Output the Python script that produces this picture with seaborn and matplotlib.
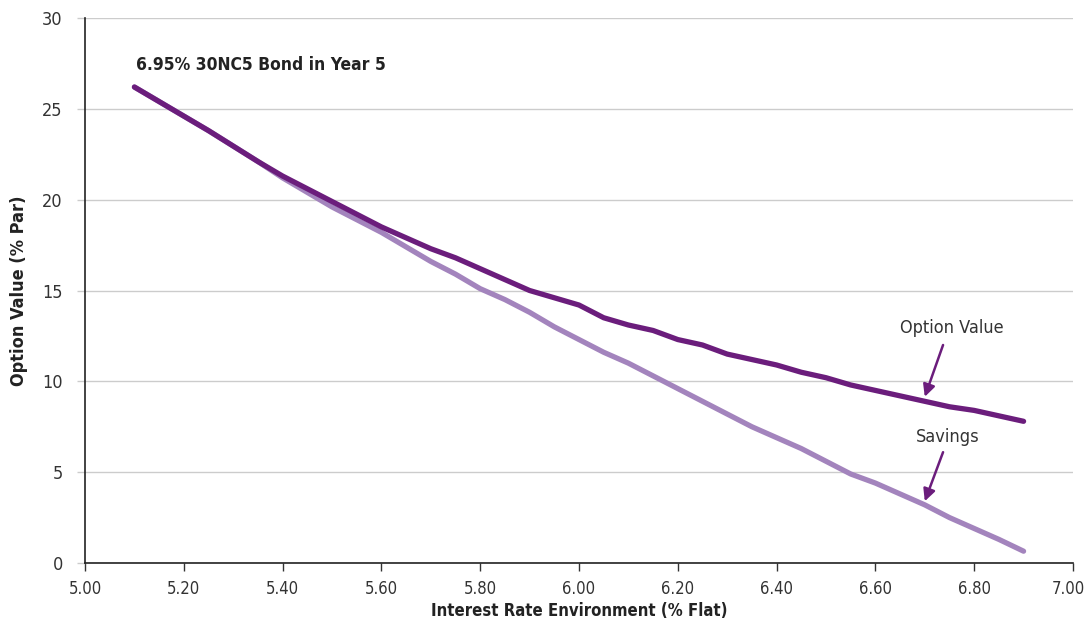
import matplotlib.pyplot as plt
import matplotlib.transforms as mtransforms
import pandas as pd
import seaborn as sns

# data
RATES = [5.10, 5.15, 5.20, 5.25, 5.30, 5.35, 5.40, 5.45, 5.50, 5.55, 5.60,
         5.65, 5.70, 5.75, 5.80, 5.85, 5.90, 5.95, 6.00, 6.05, 6.10, 6.15,
         6.20, 6.25, 6.30, 6.35, 6.40, 6.45, 6.50, 6.55, 6.60, 6.65, 6.70,
         6.75, 6.80, 6.85, 6.90]
OPTION_VALUE = [26.2, 25.4, 24.6, 23.8, 22.95, 22.1, 21.3, 20.6, 19.9, 19.2,
                18.5, 17.9, 17.3, 16.8, 16.2, 15.6, 15.0, 14.6, 14.2, 13.5,
                13.1, 12.8, 12.3, 12.0, 11.5, 11.2, 10.9, 10.5, 10.2, 9.8,
                9.5, 9.2, 8.9, 8.6, 8.4, 8.1, 7.8]
SAVINGS = [26.2, 25.4, 24.6, 23.8, 22.95, 22.1, 21.2, 20.4, 19.6, 18.9,
           18.2, 17.4, 16.6, 15.9, 15.1, 14.5, 13.8, 13.0, 12.3, 11.6,
           11.0, 10.3, 9.6, 8.9, 8.2, 7.5, 6.9, 6.3, 5.6, 4.9,
           4.4, 3.8, 3.2, 2.5, 1.9, 1.3, 0.65]
X_TICKS = [5.00, 5.20, 5.40, 5.60, 5.80, 6.00, 6.20, 6.40, 6.60, 6.80, 7.00]
Y_TICKS = [0, 5, 10, 15, 20, 25, 30]

TITLE = "6.95% 30NC5 Bond in Year 5"
XLABEL = "Interest Rate Environment (% Flat)"
YLABEL = "Option Value (% Par)"

DARK = "#6b1d7c"
LIGHT = "#a384bd"


def main():
    sns.set_style("white")
    plt.rcParams['font.family'] = ['DejaVu Sans']
    plt.rcParams['font.stretch'] = 'condensed'

    df = pd.DataFrame({"Rate": RATES, "Option Value": OPTION_VALUE,
                       "Savings": SAVINGS})

    fig = plt.figure(figsize=(10.86, 6.21), dpi=100)
    ax = fig.add_axes([0.0783, 0.0934, 0.9097, 0.8776])

    sns.lineplot(df, x="Rate", y="Savings", color=LIGHT, lw=3.8, ax=ax)
    sns.lineplot(df, x="Rate", y="Option Value", color=DARK, lw=3.8, ax=ax)

    ax.set_xlim(5.0, 7.0)
    ax.set_ylim(0, 30)
    ax.set_xticks(X_TICKS)
    ax.set_xticklabels([f"{t:.2f}" for t in X_TICKS])
    ax.set_yticks(Y_TICKS)
    ax.set_yticklabels([str(t) for t in Y_TICKS])
    ax.tick_params(axis='x', length=6, width=1, color='#333333',
                   labelsize=12, labelcolor='#333333', pad=6, direction='out',
                   bottom=True)
    ax.tick_params(axis='y', length=6, width=1, color='#cccccc',
                   labelsize=13, labelcolor='#333333', pad=10, left=True)
    # nudge the last x label so it stays inside the figure
    last = ax.get_xticklabels()[-1]
    last.set_transform(last.get_transform() + mtransforms.ScaledTranslation(
        -5 / 100, 0, fig.dpi_scale_trans))
    ax.yaxis.grid(True, color='#cccccc', lw=1)
    ax.xaxis.grid(False)
    for s in ['top', 'right']:
        ax.spines[s].set_visible(False)
    for s in ['left', 'bottom']:
        ax.spines[s].set_color('#222222')
        ax.spines[s].set_linewidth(1.2)

    ax.set_xlabel(XLABEL, fontsize=12, fontweight='bold', color='#222222',
                  labelpad=3)
    ax.set_ylabel(YLABEL, fontsize=13, fontweight='bold', color='#222222',
                  labelpad=10)

    ax.text(5.103, 27.4, TITLE, fontsize=12.5, fontweight='bold',
            color='#222222', va='center', ha='left')

    ax.text(6.755, 12.93, "Option Value", ha='center', va='center',
            fontsize=13, color='#333333')
    ax.annotate("", xy=(6.70, 9.15), xytext=(6.737, 12.0),
                arrowprops=dict(arrowstyle='-|>', color=DARK, lw=1.8,
                                mutation_scale=18, shrinkA=0, shrinkB=0))
    ax.text(6.747, 6.93, "Savings", ha='center', va='center',
            fontsize=13, color='#333333')
    ax.annotate("", xy=(6.70, 3.4), xytext=(6.737, 6.1),
                arrowprops=dict(arrowstyle='-|>', color=DARK, lw=1.8,
                                mutation_scale=18, shrinkA=0, shrinkB=0))

    fig.savefig("out.png", dpi=100)
    plt.close(fig)


if __name__ == "__main__":
    main()
